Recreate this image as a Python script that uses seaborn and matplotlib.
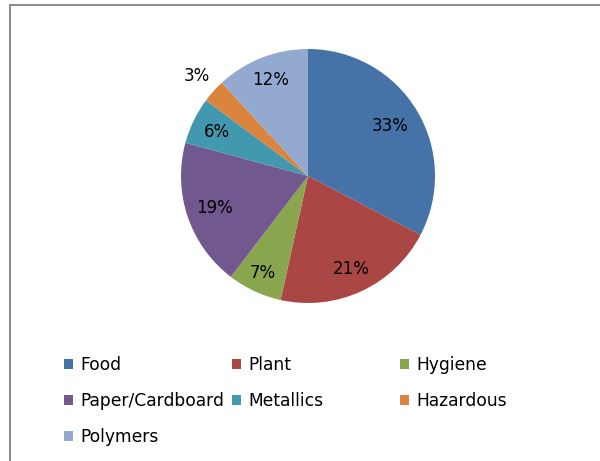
import matplotlib
matplotlib.use('Agg')
import matplotlib.pyplot as plt
import matplotlib.patches as mpatches
import seaborn as sns
import numpy as np

# dados
categorias = ['Food', 'Plant', 'Hygiene', 'Paper/Cardboard', 'Metallics', 'Hazardous', 'Polymers']
valores = [33, 21, 7, 19, 6, 3, 12]
cores = ['#4572A7', '#AA4643', '#89A54E', '#71588F', '#4198AF', '#DB843D', '#93A9CF']

# distancia radial de cada rotulo (fracao do raio)
dist_rotulos = [0.755, 0.81, 0.84, 0.78, 0.80, 1.18, 0.81]

sns.set_theme(style='white')
plt.rcParams['font.family'] = ['DejaVu Sans']

fig = plt.figure(figsize=(6, 4.61), dpi=100)

# pizza
raio_px = 127
cx, cy = 308, 176
ax = fig.add_axes([(cx - raio_px) / 600, (461 - cy - raio_px) / 461, 2 * raio_px / 600, 2 * raio_px / 461])

total = sum(valores)
paleta = sns.color_palette(cores)
wedges, textos, autotextos = ax.pie(
    valores, colors=paleta, startangle=90, counterclock=False,
    autopct=lambda p: f'{round(p * total / 100)}%', pctdistance=0.75,
    wedgeprops=dict(linewidth=0), textprops=dict(fontsize=12, color='black'))
ax.set_xlim(-1, 1)
ax.set_ylim(-1, 1)
ax.set_aspect('auto')

# reposiciona os rotulos como no original
for w, t, d in zip(wedges, autotextos, dist_rotulos):
    ang = np.deg2rad((w.theta1 + w.theta2) / 2)
    t.set_position((d * np.cos(ang), d * np.sin(ang)))

# legenda em 3 colunas (ordem por linha)
colunas = [[0, 3, 6], [1, 4], [2, 5]]
xs = [64, 232, 400]
for col, x in zip(colunas, xs):
    handles = [mpatches.Patch(facecolor=paleta[k], edgecolor='none') for k in col]
    fig.legend(handles, [categorias[k] for k in col], loc='upper left',
               bbox_to_anchor=(x / 600, 1 - 356 / 461), frameon=False,
               fontsize=12.3, borderpad=0, borderaxespad=0,
               handlelength=0.55, handleheight=0.55, handletextpad=0.42,
               labelspacing=1.05, labelcolor='black')

# moldura
fig.add_artist(plt.Line2D([9.5 / 600, 9.5 / 600], [0, 1 - 5.5 / 461], color='#8c8c8c', lw=1.5, transform=fig.transFigure))
fig.add_artist(plt.Line2D([9.5 / 600, 1], [1 - 5.5 / 461, 1 - 5.5 / 461], color='#8c8c8c', lw=1.5, transform=fig.transFigure))

plt.savefig('out.png', dpi=100)
